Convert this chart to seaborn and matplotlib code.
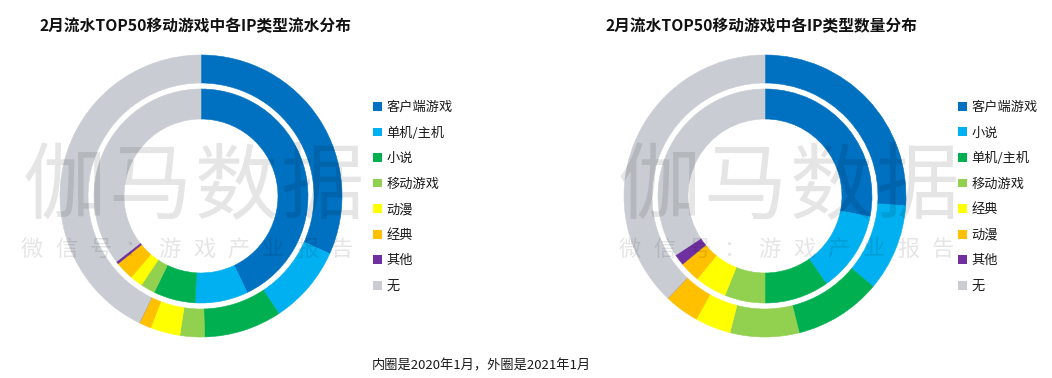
import matplotlib
matplotlib.use("Agg")
import matplotlib.pyplot as plt
import seaborn as sns
from matplotlib.patches import Patch

sns.set_theme(style="white")
plt.rcParams['font.family'] = ['Noto Sans CJK SC', 'DejaVu Sans']

# ---- data (percent shares) ----
colors = ["#0070C0", "#00B0F0", "#00B050", "#92D050", "#FFFF00", "#FFC000", "#7030A0", "#C9CDD3"]

left_title = "2月流水TOP50移动游戏中各IP类型流水分布"
left_labels = ["客户端游戏", "单机/主机", "小说", "移动游戏", "动漫", "经典", "其他", "无"]
left_outer_2021 = [31.7, 9.0, 8.9, 2.8, 3.4, 1.4, 0.0, 42.8]
left_inner_2020 = [42.9, 8.0, 6.3, 2.2, 1.9, 2.8, 0.4, 35.5]

right_title = "2月流水TOP50移动游戏中各IP类型数量分布"
right_labels = ["客户端游戏", "小说", "单机/主机", "移动游戏", "经典", "动漫", "其他", "无"]
right_outer_2021 = [26.1, 10.0, 10.0, 7.9, 4.1, 4.0, 0.0, 37.9]
right_inner_2020 = [28.1, 12.2, 9.7, 6.1, 4.8, 3.1, 1.7, 34.3]

footnote = "内圈是2020年1月，外圈是2021年1月"
wm_big = "伽马数据"
wm_small = "微信号：游戏产业报告"

# ---- figure ----
W, H = 1052, 378
fig = plt.figure(figsize=(W / 100, H / 100), dpi=100)
fig.patch.set_facecolor("white")

R = 141.0


def donut(cx, cy, outer, inner):
    ax = fig.add_axes([(cx - R) / W, (H - cy - R) / H, 2 * R / W, 2 * R / H])
    wo, _ = ax.pie(outer, colors=colors, radius=1.0, startangle=90, counterclock=False,
                   wedgeprops=dict(width=28 / R, linewidth=0.4))
    wi, _ = ax.pie(inner, colors=colors, radius=107 / R, startangle=90, counterclock=False,
                   wedgeprops=dict(width=30 / R, linewidth=0.4))
    for w in list(wo) + list(wi):
        w.set_edgecolor(w.get_facecolor())
    ax.set_xlim(-1, 1)
    ax.set_ylim(-1, 1)
    ax.set_aspect("equal")
    ax.axis("off")
    return ax


donut(201, 196, left_outer_2021, left_inner_2020)
donut(765, 196, right_outer_2021, right_inner_2020)


def legend(x, y, labels):
    handles = [Patch(facecolor=c, edgecolor="none") for c in colors]
    fig.legend(handles, labels, loc="upper left", bbox_to_anchor=(x / W, 1 - y / H),
               frameon=False, fontsize=9.5, handlelength=0.65, handleheight=0.65,
               handletextpad=0.35, labelspacing=0.95, borderpad=0, borderaxespad=0,
               labelcolor="#1a1a1a")


legend(373, 101, left_labels)
legend(958, 101, right_labels)

fig.text(40 / W, 1 - 26 / H, left_title, fontsize=11.3, fontweight="bold",
         ha="left", va="center", color="#111111")
fig.text(605 / W, 1 - 26 / H, right_title, fontsize=11.3, fontweight="bold",
         ha="left", va="center", color="#111111")
fig.text(481 / W, 1 - 366 / H, footnote, fontsize=9.5, ha="center", va="center",
         color="#1a1a1a")

# watermark
for x0, xs0, sp in [(64, 32, 34.4), (659, 630, 34.8)]:
    for i, ch in enumerate(wm_big):
        fig.text((x0 + 86 * i) / W, 1 - 188 / H, ch, fontsize=60, color="black",
                 alpha=0.1, ha="center", va="center")
    for i, ch in enumerate(wm_small):
        fig.text((xs0 + sp * i) / W, 1 - 249 / H, ch, fontsize=16, color="black",
                 alpha=0.1, ha="center", va="center")

fig.savefig("out.png", dpi=100, facecolor="white")
